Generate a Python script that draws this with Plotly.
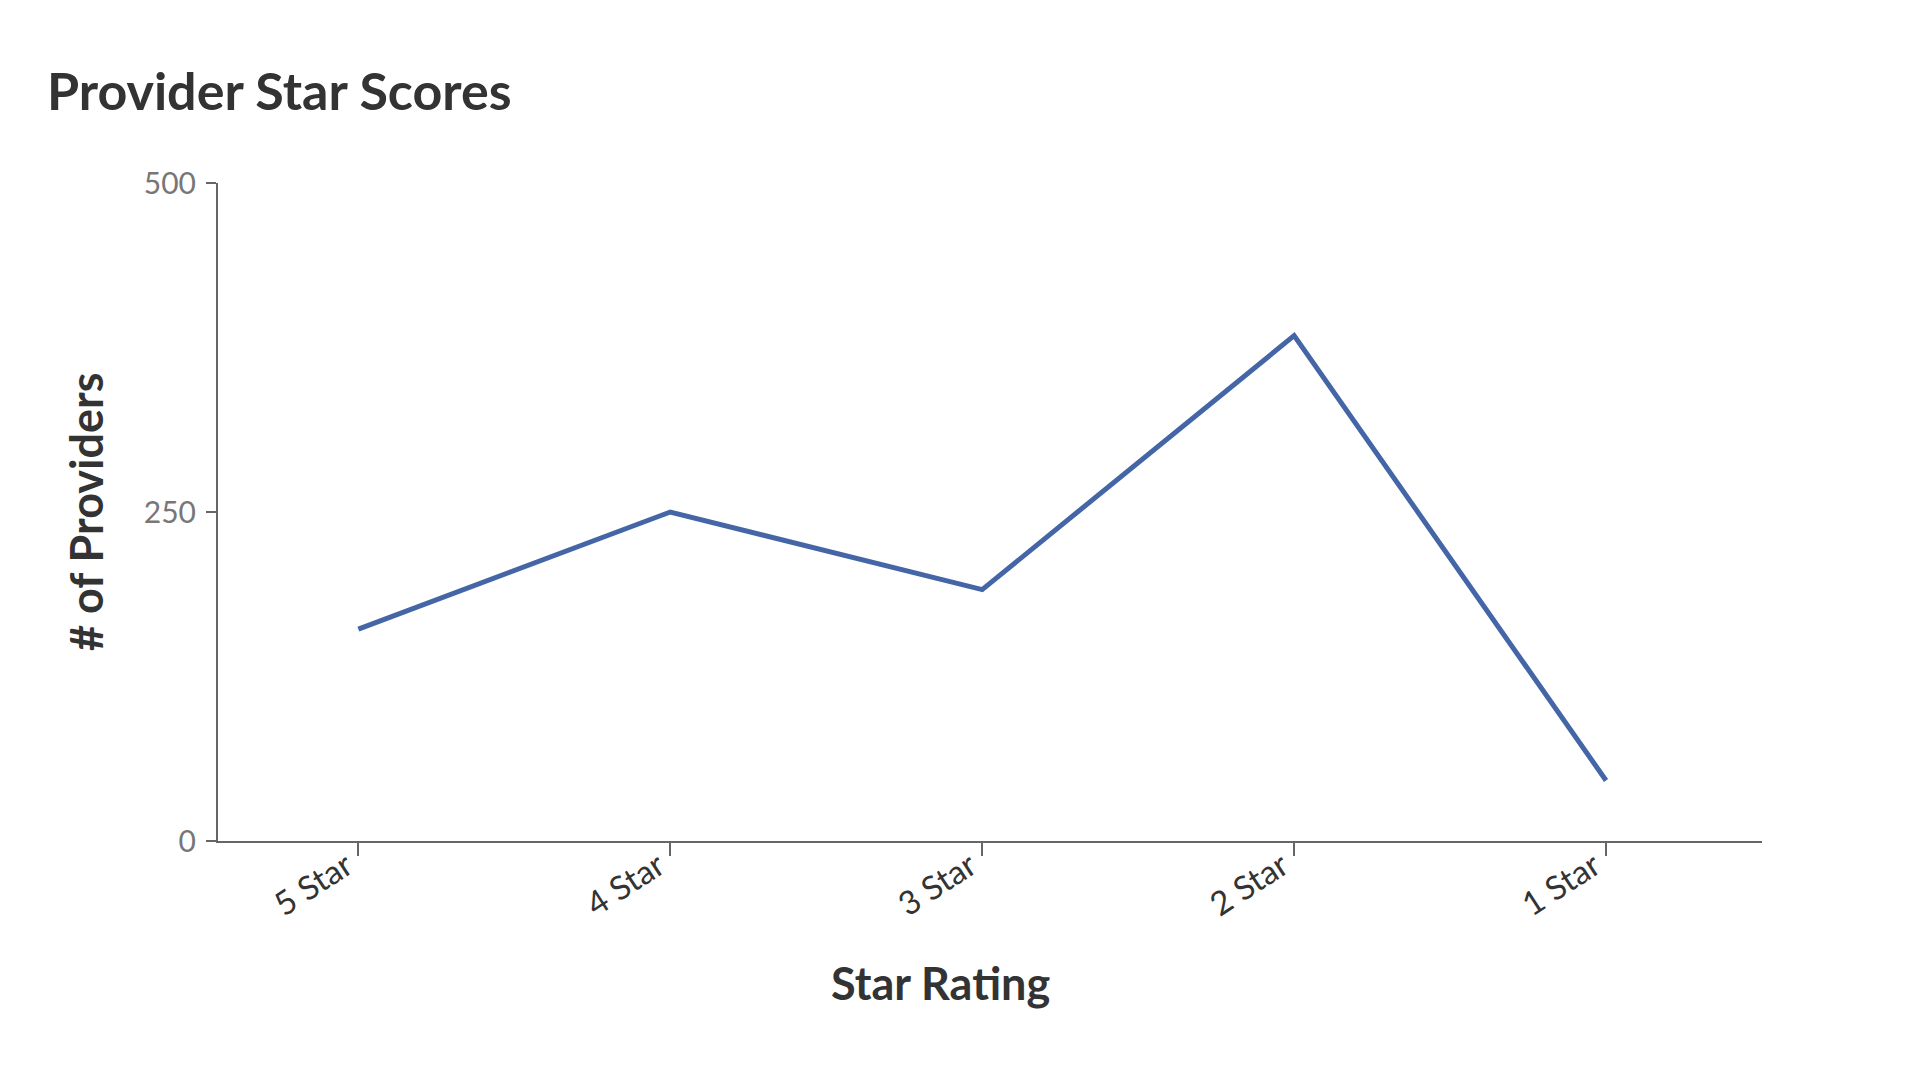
import plotly.graph_objects as go

ratings = ["5 Star", "4 Star", "3 Star", "2 Star", "1 Star"]
providers = [161, 250, 191, 384, 46]
y_ticks = [0, 250, 500]

font_family = "Lato, 'Noto Sans', sans-serif"

# plot box in page pixels
left, right, top, bottom = 210, 151, 175, 232
plot_w = 1905 - left - right
plot_h = 1065 - top - bottom
plot_bottom = 1065 - bottom

fig = go.Figure(
    go.Scatter(
        x=ratings,
        y=providers,
        mode="lines",
        line=dict(color="#4465a6", width=5),
        hoverinfo="x+y",
    )
)

fig.update_layout(
    width=1905,
    height=1065,
    plot_bgcolor="white",
    paper_bgcolor="white",
    showlegend=False,
    font=dict(family=font_family, color="#333333"),
    margin=dict(l=left, r=right, t=top, b=bottom),
    title=dict(
        text="<b>Provider Star Scores</b>",
        x=39 / 1905,
        xref="container",
        xanchor="left",
        y=1 - 84 / 1065,
        yref="container",
        yanchor="middle",
        font=dict(size=52, color="#333333", family=font_family),
    ),
)

fig.update_xaxes(
    type="category",
    range=[-0.45, 4.5],
    showline=True,
    linecolor="#666666",
    linewidth=2,
    showgrid=False,
    zeroline=False,
    ticks="outside",
    ticklen=13,
    tickwidth=2,
    tickcolor="#666666",
    tickangle=-33,
    ticklabelstandoff=-22,
    ticklabelshift=-12,
    tickfont=dict(size=33, color="#333333", family=font_family),
)

fig.update_yaxes(
    range=[0, 500],
    tickvals=y_ticks,
    showline=True,
    linecolor="#666666",
    linewidth=2,
    showgrid=False,
    zeroline=False,
    ticks="outside",
    ticklen=10,
    tickwidth=2,
    tickcolor="#666666",
    ticklabelstandoff=4,
    tickfont=dict(size=30, color="#777777", family=font_family),
)

fig.add_annotation(
    text="<b>Star Rating</b>",
    xref="paper",
    yref="paper",
    x=(932 - left) / plot_w,
    y=-(975 - plot_bottom) / plot_h,
    xanchor="center",
    yanchor="middle",
    showarrow=False,
    font=dict(size=45, color="#333333", family=font_family),
)

fig.add_annotation(
    text="<b># of Providers</b>",
    xref="paper",
    yref="paper",
    x=-(left - 78) / plot_w,
    y=0.5,
    xanchor="center",
    yanchor="middle",
    textangle=-90,
    showarrow=False,
    font=dict(size=45, color="#333333", family=font_family),
)

fig.write_html("out.html")
